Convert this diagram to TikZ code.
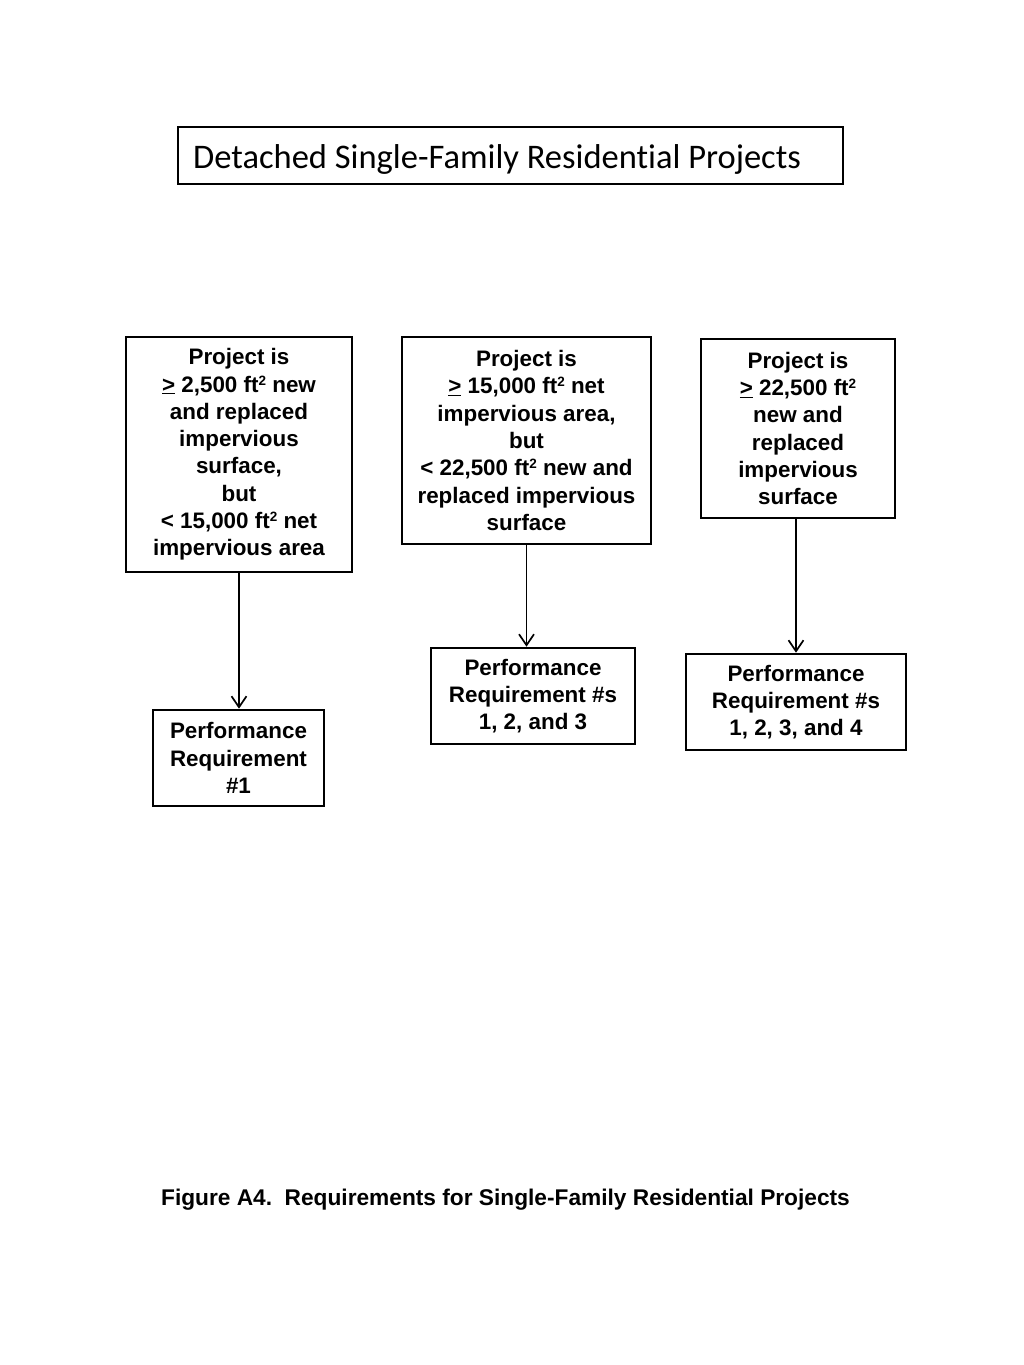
\documentclass[tikz,border=0pt]{standalone}
\usepackage{fontspec}
\setmainfont{Liberation Sans}
\newfontfamily\calibri[Ligatures={NoCommon}]{Carlito}
\usetikzlibrary{arrows.meta}
\newcommand{\sqft}{ft\raisebox{7pt}{\fontsize{13.5}{13.5}\selectfont 2}}
\begin{document}
\begin{tikzpicture}[x=1pt,y=-1pt,
  box/.style={draw, line width=2.6pt, inner sep=0pt, align=center,
    font=\fontsize{22.4}{27.3}\selectfont\bfseries,
    execute at begin node={\rule{0pt}{20.5pt}}},
  link/.style={line width=1.7pt,
    -{Straight Barb[length=11pt,width=15pt,line width=1.7pt]}}]
\useasboundingbox (0,0) rectangle (1024,1365);
\node[draw, line width=2.6pt, minimum width=665pt, minimum height=57pt, inner sep=0pt] (title) at (510.5,155.5) {};
\node[anchor=base west, font=\calibri\fontsize{34.5}{40}\selectfont, inner sep=0pt] (titletext) at (193,168) {Detached Single-Family Residential Projects};

\node[box, minimum width=226pt, minimum height=235pt] (a) at (239,454.5)
  {Project is\\ \underline{>} 2,500 \sqft{} new\\ and replaced\\ impervious\\ surface,\\ but\\ < 15,000 \sqft{} net\\ impervious area};
\node[box, minimum width=249pt, minimum height=207pt] (b) at (526.5,440.5)
  {Project is\\ \underline{>} 15,000 \sqft{} net\\ impervious area,\\ but\\ < 22,500 \sqft{} new and\\ replaced impervious\\ surface};
\node[box, minimum width=194pt, minimum height=179pt] (c) at (798,428.5)
  {Project is\\ \underline{>} 22,500 \sqft\\ new and\\ replaced\\ impervious\\ surface};
\node[box, minimum width=171pt, minimum height=96pt] (d) at (238.5,758)
  {Performance\\ Requirement\\ \#1};
\node[box, minimum width=204pt, minimum height=96pt] (e) at (533,696)
  {Performance\\ Requirement \#s\\ 1, 2, and 3};
\node[box, minimum width=220pt, minimum height=96pt] (f) at (796,702)
  {Performance\\ Requirement \#s\\ 1, 2, 3, and 4};

\draw[link] (a.south) -- (a.south |- d.north);
\draw[link] (b.south) -- (b.south |- e.north);
\draw[link] (f.north |- c.south) -- (f.north);

\node[anchor=base, inner sep=0pt, font=\fontsize{22.7}{27}\selectfont\bfseries] (caption) at (505.5,1205)
  {Figure A4.\ \ Requirements for Single-Family Residential Projects};
\end{tikzpicture}
\end{document}
